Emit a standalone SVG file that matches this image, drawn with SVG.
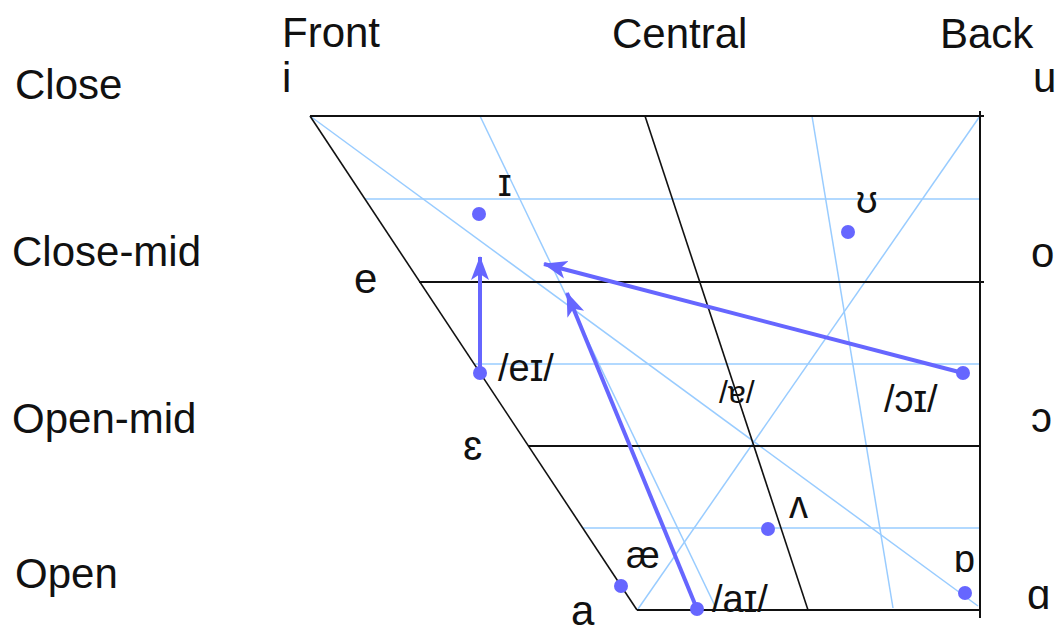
<svg xmlns="http://www.w3.org/2000/svg" width="1063" height="632" viewBox="0 0 1063 632">
<style>
.t{font-family:"Liberation Sans","DejaVu Sans",sans-serif;font-size:42px;fill:#111}
.s{font-family:"Liberation Sans","DejaVu Sans",sans-serif;font-size:38px;fill:#111}
.k{stroke:#111;stroke-width:2;fill:none}
.kd{stroke:#111;stroke-width:1.6;fill:none}
.b{stroke:#99ccff;stroke-width:1.5;fill:none}
.dot{fill:#6666ff}
.arr{stroke:#6666ff;stroke-width:4;fill:none;marker-end:url(#ah)}
</style>
<defs>
<marker id="ah" markerUnits="userSpaceOnUse" viewBox="0 0 24 20" refX="23" refY="10" markerWidth="24" markerHeight="20" orient="auto">
<path d="M0,1 L24,10 L0,19 L6,10 z" fill="#6666ff"/>
</marker>
</defs>
<rect width="1063" height="632" fill="#fff"/>
<g id="grid-blue">
<line class="b" x1="365" y1="199" x2="980" y2="199"/>
<line class="b" x1="474" y1="364" x2="980" y2="364"/>
<line class="b" x1="583" y1="528" x2="980" y2="528"/>
<line class="b" x1="310" y1="116" x2="978" y2="606"/>
<line class="b" x1="980" y1="116" x2="638" y2="609"/>
<line class="b" x1="480" y1="116" x2="716" y2="608"/>
<line class="b" x1="812" y1="116" x2="893" y2="608"/>
</g>
<g id="grid-black">
<line class="k" x1="310" y1="116" x2="984" y2="116"/>
<line class="k" x1="419" y1="282" x2="984" y2="282"/>
<line class="k" x1="528" y1="446" x2="980" y2="446"/>
<line class="k" x1="637" y1="610" x2="980" y2="610"/>
<line class="k" x1="980" y1="111" x2="980" y2="618"/>
<line class="kd" x1="310" y1="116" x2="637" y2="610"/>
<line class="kd" x1="645" y1="116" x2="808" y2="610"/>
</g>
<g id="labels">
<text class="t" x="282" y="47">Front</text>
<text class="t" x="282" y="92">i</text>
<text class="t" x="612" y="48">Central</text>
<text class="t" x="940" y="48">Back</text>
<text class="t" x="1033" y="92">u</text>
<text class="t" x="15" y="99">Close</text>
<text class="t" x="12" y="266">Close-mid</text>
<text class="t" x="1031" y="267">o</text>
<text class="t" x="354" y="293">e</text>
<text class="t" x="12" y="433">Open-mid</text>
<text class="t" x="1031" y="432">ɔ</text>
<text class="t" x="463" y="460">ɛ</text>
<text class="t" x="15" y="588">Open</text>
<text class="t" x="1027" y="609">ɑ</text>
<text class="t" x="571" y="625">a</text>
</g>
<g id="connectors">
<line class="arr" x1="480" y1="373" x2="480" y2="257"/>
<line class="arr" x1="963" y1="373" x2="544" y2="264"/>
<line class="arr" x1="697" y1="609" x2="567" y2="293"/>
</g>
<g id="vowel-I"><circle class="dot" cx="479" cy="214" r="7"/><text class="s" x="498" y="196">ɪ</text></g>
<g id="vowel-U"><circle class="dot" cx="848" cy="232" r="7"/><text class="s" x="856" y="213">ʊ</text></g>
<g id="diph-eI"><circle class="dot" cx="480" cy="373" r="7"/><text class="s" x="498" y="381">/eɪ/</text></g>
<g id="diph-oI"><circle class="dot" cx="963" cy="373" r="7"/><text class="s" x="884" y="412">/ɔɪ/</text></g>
<g id="vowel-schwa"><text class="s" x="719" y="403" style="font-size:32px">/ɐ/</text></g>
<g id="vowel-V"><circle class="dot" cx="768" cy="529" r="7"/><text class="s" x="789" y="518">ʌ</text></g>
<g id="vowel-ae"><circle class="dot" cx="621" cy="586" r="7"/><text class="s" x="626" y="568">æ</text></g>
<g id="diph-aI"><circle class="dot" cx="697" cy="609" r="7"/><text class="s" x="712" y="612">/aɪ/</text></g>
<g id="vowel-Q"><circle class="dot" cx="965" cy="593" r="7"/><text class="s" x="954" y="572">ɒ</text></g>
</svg>
